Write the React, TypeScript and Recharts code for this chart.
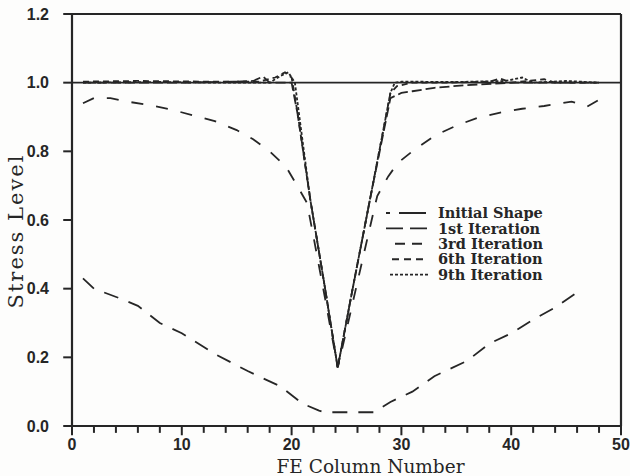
import { LineChart, Line, XAxis, YAxis, ReferenceLine, Legend, Label } from 'recharts';

const seriesNames = ['Initial Shape', '1st Iteration', '3rd Iteration', '6th Iteration', '9th Iteration'];

// FE column number / stress level
const initialX = [1, 2, 4.5, 6, 8, 10, 13, 16, 19, 21, 22.5, 23, 27.5, 29, 31, 33, 36, 38, 40, 42, 44, 46.5];
const initialY = [0.43, 0.4, 0.37, 0.35, 0.3, 0.27, 0.21, 0.16, 0.115, 0.065, 0.045, 0.04, 0.04, 0.07, 0.1, 0.145, 0.19, 0.24, 0.27, 0.31, 0.345, 0.4];

const iter1X = [1, 2, 3.5, 5, 7, 9, 11, 13, 15, 16.5, 18, 19.5, 20.5, 21.4, 22, 23, 24.2, 25, 26, 27, 27.8, 28.8, 29.7, 31, 33, 35, 37, 39, 41, 43, 45.5, 46.9, 48];
const iter1Y = [0.94, 0.955, 0.955, 0.945, 0.935, 0.922, 0.905, 0.888, 0.862, 0.835, 0.8, 0.755, 0.7, 0.65, 0.55, 0.38, 0.17, 0.28, 0.42, 0.56, 0.67, 0.727, 0.767, 0.8, 0.845, 0.875, 0.898, 0.913, 0.924, 0.932, 0.945, 0.93, 0.95];

const iter3X = [1, 5, 10, 15, 16.5, 17.4, 18, 20, 20.6, 21.7, 23, 24.2, 25.5, 27.2, 29, 30, 31, 33, 36, 40, 44, 48];
const iter3Y = [1.0, 1.0, 1.0, 1.003, 1.005, 1.018, 1.0, 1.0, 0.9, 0.66, 0.41, 0.17, 0.39, 0.67, 0.955, 0.97, 0.975, 0.985, 0.993, 1.0, 1.0, 1.0];

const iter6X = [1, 6, 12, 17, 18.5, 19.4, 20, 20.4, 21.7, 23, 24.2, 25.5, 27.2, 29, 29.6, 31, 34, 38, 39, 40, 43, 44, 48];
const iter6Y = [1.003, 1.005, 1.003, 1.003, 1.015, 1.03, 1.015, 0.94, 0.66, 0.41, 0.17, 0.39, 0.67, 0.97, 0.99, 1.0, 1.0, 1.003, 1.012, 1.0, 1.01, 1.0, 1.0];

const iter9X = [1, 8, 14, 18, 19, 19.7, 20.3, 21.7, 23, 24.2, 25.5, 27.2, 29, 29.4, 30, 35, 39.5, 41, 42, 45, 48];
const iter9Y = [1.0, 1.002, 1.0, 1.0, 1.02, 1.03, 1.0, 0.66, 0.41, 0.17, 0.39, 0.67, 0.97, 1.0, 1.003, 1.002, 1.005, 1.015, 1.0, 1.005, 1.0];

const xTicks = [0, 2, 4, 6, 8, 10, 12, 14, 16, 18, 20, 22, 24, 26, 28, 30, 32, 34, 36, 38, 40, 42, 44, 46, 48, 50];
const xLabels = [0, 10, 20, 30, 40, 50];
const yTicks = [0, 0.2, 0.4, 0.6, 0.8, 1.0, 1.2];

const ink = '#262626';

const toPoints = (xs: number[], ys: number[]) => xs.map((x, i) => ({ x, y: ys[i] }));

const series = [
  { name: seriesNames[0], data: toPoints(initialX, initialY), dash: '15 11' },
  { name: seriesNames[1], data: toPoints(iter1X, iter1Y), dash: '12 13' },
  { name: seriesNames[2], data: toPoints(iter3X, iter3Y), dash: '10 4' },
  { name: seriesNames[3], data: toPoints(iter6X, iter6Y), dash: '6 4' },
  { name: seriesNames[4], data: toPoints(iter9X, iter9Y), dash: '3 2' },
];

// legend samples drawn like the printed key
const legendSamples = [
  { x1: 386, x2: 427, dash: '27 9', offset: 23 },
  { x1: 386, x2: 427, dash: '17 7', offset: 0 },
  { x1: 395, x2: 425, dash: '10 7', offset: 0 },
  { x1: 392, x2: 428, dash: '7 5', offset: 0 },
  { x1: 390, x2: 428, dash: '3 2', offset: 0 },
];

const XTick = (props: any) => {
  const { x, y, payload } = props;
  if (!xLabels.includes(payload.value)) return null;
  return (
    <text x={x} y={y + 24} textAnchor="middle" fontFamily="'Liberation Sans', Arial, sans-serif" fontWeight="bold" fontSize={16} fill={ink}>
      {payload.value}
    </text>
  );
};

const YTick = (props: any) => {
  const { x, y, payload } = props;
  return (
    <text x={x - 23} y={y} dy="0.36em" textAnchor="end" fontFamily="'Liberation Sans', Arial, sans-serif" fontWeight="bold" fontSize={16} fill={ink}>
      {Number(payload.value).toFixed(1)}
    </text>
  );
};

const renderLegend = () => (
  <svg width={240} height={90} style={{ overflow: 'visible', display: 'block' }}>
    {seriesNames.map((name, i) => {
      const cy = 9 + i * 15.4;
      const s = legendSamples[i];
      return (
        <g key={name}>
          <line x1={s.x1 - 380} x2={s.x2 - 380} y1={cy} y2={cy} stroke={ink} strokeWidth={1.9} strokeDasharray={s.dash} strokeDashoffset={s.offset} />
          <text x={438 - 380} y={cy} dy="0.36em" fontFamily="'DejaVu Serif', serif" fontWeight="bold" fontSize={14.5} fill={ink}>
            {name}
          </text>
        </g>
      );
    })}
  </svg>
);

export default function App() {
  return (
    <div style={{ position: 'absolute', left: 0, top: 0, width: 630, height: 476, background: '#fdfdfc' }}>
      <LineChart width={630} height={476} margin={{ top: 14, right: 9, left: 0, bottom: 0 }}>
        <XAxis
          type="number"
          dataKey="x"
          domain={[0, 50]}
          ticks={xTicks}
          interval={0}
          height={50}
          tickSize={0}
          tickMargin={0}
          tickLine={false}
          tick={<XTick />}
          axisLine={{ stroke: ink, strokeWidth: 2.2 }}
        >
          <Label
            content={(p: any) => {
              const vb = p.viewBox;
              return (
                <text x={vb.x + vb.width / 2 + 24} y={vb.y + 47} textAnchor="middle" fontFamily="'DejaVu Serif', serif" fontSize={18.5} fill={ink}>
                  FE Column Number
                </text>
              );
            }}
          />
        </XAxis>
        <YAxis
          type="number"
          dataKey="y"
          domain={[0, 1.2]}
          ticks={yTicks}
          interval={0}
          width={72}
          tickSize={0}
          tickMargin={0}
          tickLine={false}
          tick={<YTick />}
          axisLine={{ stroke: ink, strokeWidth: 2.2 }}
        >
          <Label
            content={(p: any) => {
              const vb = p.viewBox;
              const cx = vb.x + 16;
              const cy = vb.y + vb.height / 2 + 11;
              return (
                <text x={cx} y={cy} transform={`rotate(-90, ${cx}, ${cy})`} textAnchor="middle" dominantBaseline="central" fontFamily="'DejaVu Serif', serif" fontSize={21} letterSpacing={2} fill={ink}>
                  Stress Level
                </text>
              );
            }}
          />
        </YAxis>
        {/* tick marks, placed through the axis scales */}
        {xTicks.map((t) => (
          <ReferenceLine
            key={`xt${t}`}
            segment={[{ x: t, y: 0 }, { x: t, y: xLabels.includes(t) ? -0.027 : -0.02 }]}
            ifOverflow="visible"
            stroke={ink}
            strokeWidth={2}
          />
        ))}
        {yTicks.map((t) => (
          <ReferenceLine
            key={`yt${t}`}
            segment={[{ x: -0.8, y: t }, { x: 0, y: t }]}
            ifOverflow="visible"
            stroke={ink}
            strokeWidth={2}
          />
        ))}
        <ReferenceLine y={1.2} stroke={ink} strokeWidth={2.2} />
        <ReferenceLine x={50} stroke={ink} strokeWidth={2.2} />
        <ReferenceLine y={1.0} stroke={ink} strokeWidth={1.9} />
        {series.map((s) => (
          <Line
            key={s.name}
            name={s.name}
            data={s.data}
            dataKey="y"
            type="linear"
            stroke={ink}
            strokeWidth={1.8}
            strokeDasharray={s.dash}
            dot={false}
            activeDot={false}
            isAnimationActive={false}
          />
        ))}
        <Legend
          layout="horizontal"
          verticalAlign="middle"
          align="center"
          content={renderLegend}
          wrapperStyle={{ left: 380, top: 204, width: 240, height: 90 }}
        />
      </LineChart>
    </div>
  );
}
